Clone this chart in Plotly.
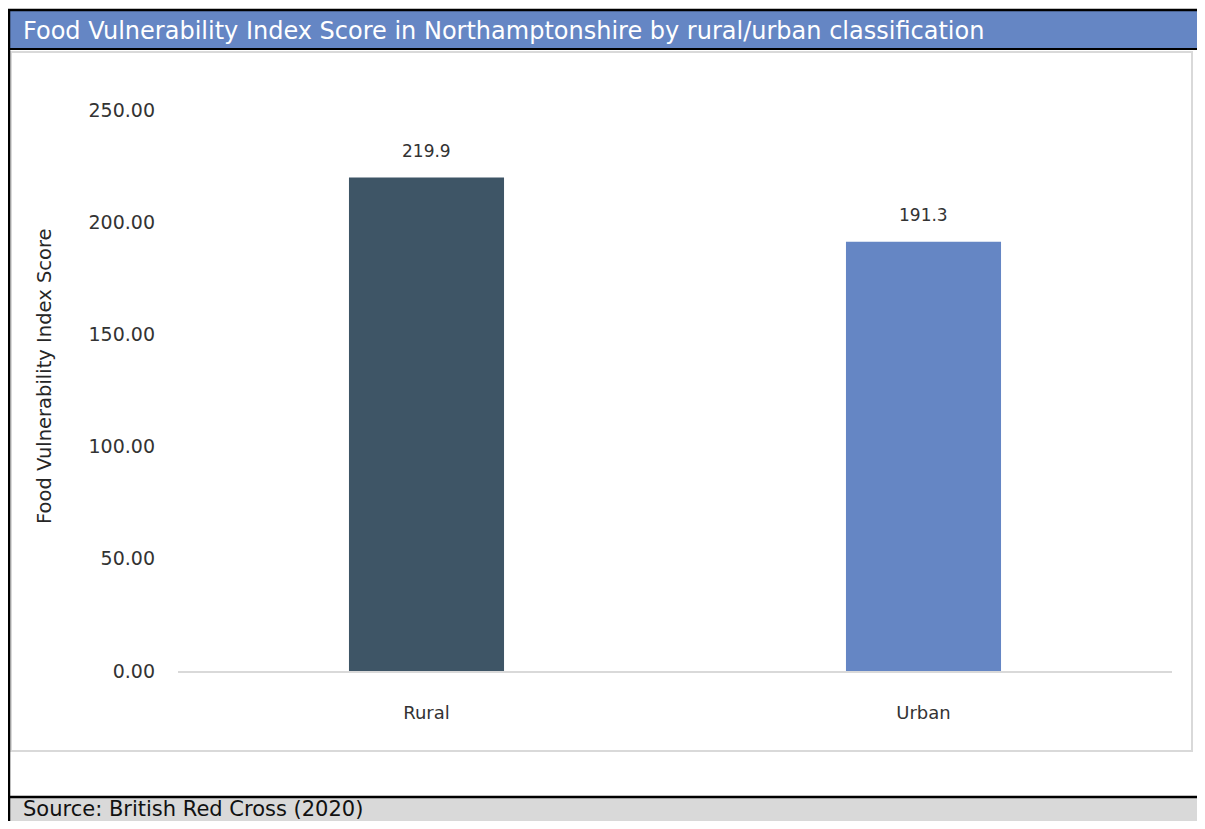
import plotly.graph_objects as go

categories = ["Rural", "Urban"]
scores = [219.9, 191.3]
bar_colors = ["#3E5566", "#6586C4"]
y_ticks = [0, 50, 100, 150, 200, 250]

title_text = "Food Vulnerability Index Score in Northamptonshire by rural/urban classification"
source_text = "Source: British Red Cross (2020)"
y_title = "Food Vulnerability Index Score"

# The figure fills the browser window, inside the page's 8px margin
OFF = 8
W, H = 1205 - 2 * OFF, 829 - 2 * OFF
FONT = "DejaVu Sans"


def px(x):
    return min(max((x - OFF) / W, 0.0), 1.0)


def py(y):
    return min(max(1 - (y - OFF) / H, 0.0), 1.0)


fig = go.Figure()
fig.add_trace(go.Bar(
    x=categories, y=scores, marker_color=bar_colors, marker_line_width=0,
    width=0.312, hoverinfo="skip",
))

shapes = [
    # title bar
    dict(type="rect", xref="paper", yref="paper", x0=px(9), x1=px(1205), y0=py(48), y1=py(10),
         fillcolor="#6586C4", line_width=0, layer="below"),
    # footer band
    dict(type="rect", xref="paper", yref="paper", x0=px(9), x1=px(1205), y0=py(829), y1=py(797),
         fillcolor="#D9D9D9", line_width=0, layer="below"),
    # inner chart box
    dict(type="rect", xref="paper", yref="paper", x0=px(11), x1=px(1192), y0=py(751), y1=py(52),
         fillcolor="rgba(0,0,0,0)", line=dict(color="#D9D9D9", width=2), layer="below"),
    # black rules
    dict(type="line", xref="paper", yref="paper", x0=px(8), x1=px(1205), y0=py(10), y1=py(10),
         line=dict(color="black", width=2.5)),
    dict(type="line", xref="paper", yref="paper", x0=px(8), x1=px(1205), y0=py(49), y1=py(49),
         line=dict(color="black", width=2)),
    dict(type="line", xref="paper", yref="paper", x0=px(8), x1=px(1205), y0=py(797), y1=py(797),
         line=dict(color="black", width=2.5)),
    dict(type="line", xref="paper", yref="paper", x0=px(9), x1=px(9), y0=py(829), y1=py(9),
         line=dict(color="black", width=2.5)),
]

annotations = [
    dict(text=title_text, xref="paper", yref="paper", x=px(21), y=py(31), xanchor="left", yanchor="middle",
         showarrow=False, font=dict(family=FONT, size=24, color="white")),
    dict(text=source_text, xref="paper", yref="paper", x=px(21), y=py(809), xanchor="left", yanchor="middle",
         showarrow=False, font=dict(family=FONT, size=21, color="#111111")),
    dict(text=y_title, xref="paper", yref="paper", x=px(44), y=py(376), xanchor="center", yanchor="middle",
         textangle=-90, showarrow=False, font=dict(family=FONT, size=19.5, color="#262626")),
]
for c, v in zip(categories, scores):
    annotations.append(dict(text=f"{v:.1f}", x=c, y=v, xref="x", yref="y", yshift=27,
                            showarrow=False, font=dict(family=FONT, size=17, color="#333333")))

fig.update_layout(
    autosize=True, margin=dict(l=0, r=0, t=0, b=0, autoexpand=False),
    paper_bgcolor="white", plot_bgcolor="white",
    showlegend=False, shapes=shapes, annotations=annotations,
    font=dict(family=FONT, color="#333333"),
    xaxis=dict(domain=[px(178), px(1172)], showgrid=False, zeroline=False, automargin=False,
               showline=True, linecolor="#D9D9D9", linewidth=2,
               tickfont=dict(family=FONT, size=18, color="#333333"),
               ticks="", ticklabelstandoff=24),
    yaxis=dict(domain=[py(671), py(110)], range=[0, 250], tickvals=y_ticks, tickformat=".2f",
               showgrid=False, zeroline=False, showline=False, ticks="", automargin=False,
               tickfont=dict(family=FONT, size=19, color="#333333"), ticklabelstandoff=22),
)

fig.write_html("out.html")
